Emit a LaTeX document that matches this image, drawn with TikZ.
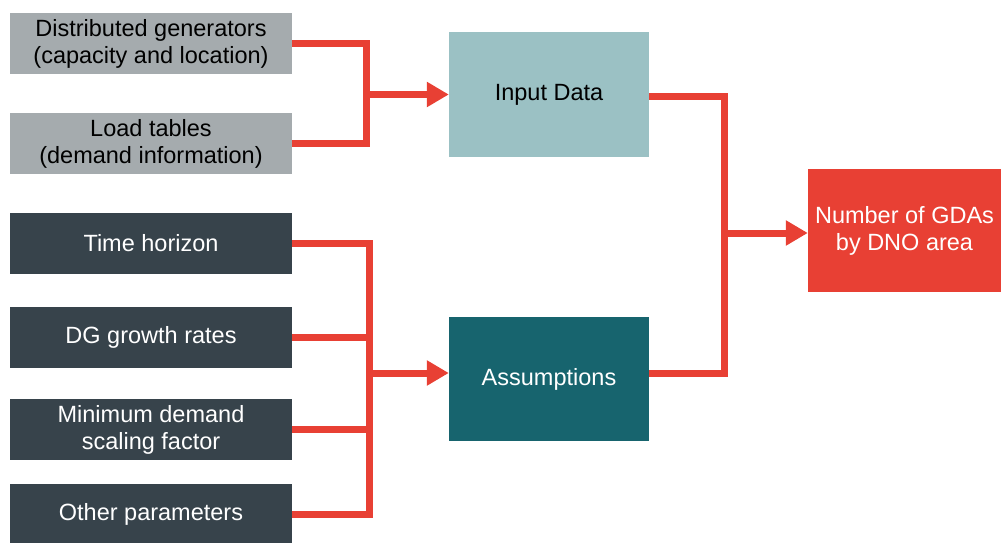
\documentclass[tikz,border=0pt]{standalone}
\usepackage{fontspec}
\setmainfont{Liberation Sans}
\usetikzlibrary{arrows.meta}
\definecolor{lightgrey}{HTML}{A5ABAE}
\definecolor{slate}{HTML}{37434B}
\definecolor{paleteal}{HTML}{9BC1C4}
\definecolor{deepteal}{HTML}{17646E}
\definecolor{flame}{HTML}{E84034}
\tikzset{
  box/.style={rectangle, inner sep=0pt, align=center, font=\fontsize{23.5}{27}\selectfont},
  inbox/.style={box, fill=lightgrey, text=black, minimum width=282pt, minimum height=61pt},
  parbox/.style={box, fill=slate, text=white, minimum width=282pt, minimum height=61pt},
  midbox/.style={box, minimum width=200pt, minimum height=124pt},
  conn/.style={draw=flame, line width=7pt, line join=miter},
  arrowconn/.style={conn, -{Triangle[length=22pt,width=24pt]}},
}
\begin{document}
\begin{tikzpicture}[x=1pt,y=-1pt]
\useasboundingbox (0,0) rectangle (1001,543);

% data sources
\node[inbox] (dg)   at (151,43.5)  {Distributed generators\\(capacity and location)};
\node[inbox] (load) at (151,143.5) {Load tables\\(demand information)};

% assumption parameters
\node[parbox] (th)  at (151,243.5) {Time horizon};
\node[parbox] (dgr) at (151,337.5) {DG growth rates};
\node[parbox] (mdf) at (151,429.5) {Minimum demand\\scaling factor};
\node[parbox] (oth) at (151,514.5) {Other parameters};

% intermediate blocks
\node[midbox, fill=paleteal, text=black] (input)  at (549,94.5) {Input Data};
\node[midbox, fill=deepteal, text=white] (assume) at (549,379)  {Assumptions};

% result
\node[box, fill=flame, text=white, minimum width=193pt, minimum height=123pt] (gda) at (904.5,230.5) {Number of GDAs\\by DNO area};

% junction points
\coordinate (j1) at (366,94.5);
\coordinate (j2) at (369,373);
\coordinate (j3) at (724,233);

% input data connectors
\draw[conn] (dg.east) -| (j1) |- (load.east);
\draw[arrowconn] (j1) -- (input.west);

% assumptions connectors
\draw[conn] (th.east) -| (j2) |- (oth.east);
\draw[conn] (dgr.east) -- (dgr.east -| j2);
\draw[conn] (mdf.east) -- (mdf.east -| j2);
\draw[arrowconn] (j2) -- (j2 -| assume.west);

% output connectors
\draw[conn] ([yshift=-1.5pt]input.east) -| (j3) |- ([yshift=6pt]assume.east);
\draw[arrowconn] (j3) -- (j3 -| gda.west);
\end{tikzpicture}
\end{document}
